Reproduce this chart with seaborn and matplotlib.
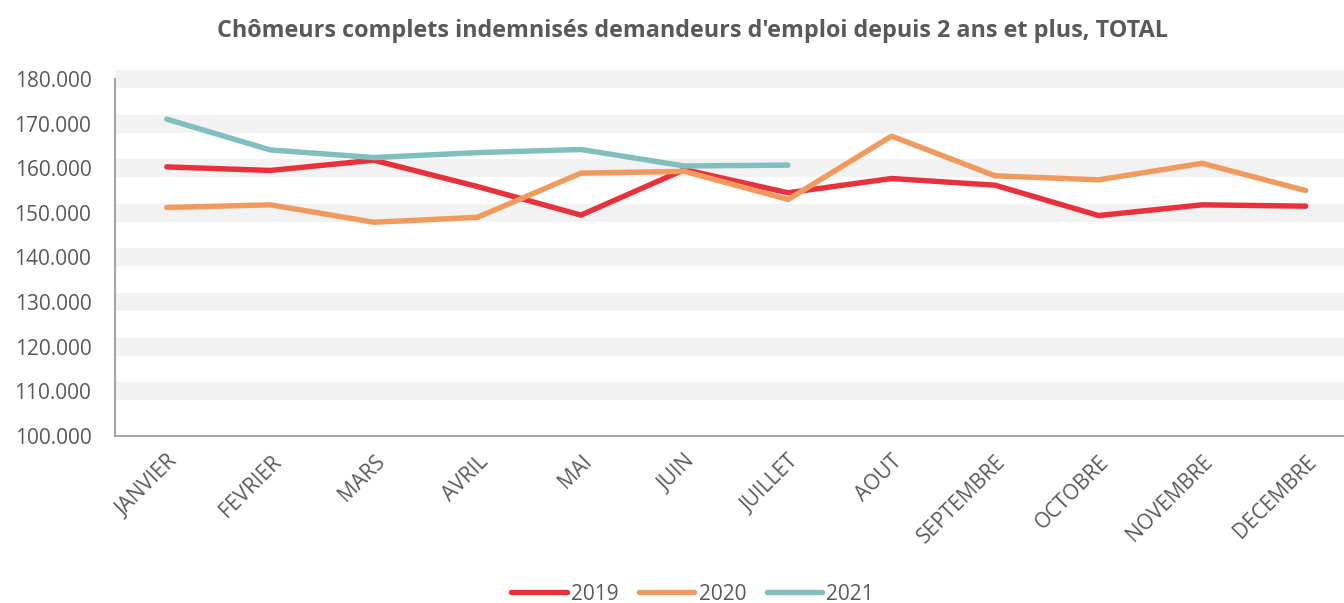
import pandas as pd
import seaborn as sns
import matplotlib.pyplot as plt
from matplotlib.ticker import FuncFormatter

# Monthly values
months = ['JANVIER', 'FEVRIER', 'MARS', 'AVRIL', 'MAI', 'JUIN',
          'JUILLET', 'AOUT', 'SEPTEMBRE', 'OCTOBRE', 'NOVEMBRE', 'DECEMBRE']
values_2019 = [160300, 159500, 161800, 155900, 149500, 159700,
               154500, 157700, 156200, 149400, 151800, 151500]
values_2020 = [151200, 151800, 147900, 149000, 158900, 159300,
               153000, 167200, 158300, 157400, 161100, 155000]
values_2021 = [171000, 164100, 162400, 163500, 164200, 160500, 160700]
years = ['2019', '2020', '2021']
colors = ['#E8313A', '#F09A5E', '#7FBFBD']

rows = []
for year, vals in zip(years, [values_2019, values_2020, values_2021]):
    for m, v in zip(months, vals):
        rows.append({'month': m, 'value': v, 'year': year})
df = pd.DataFrame(rows)

sns.set_style('white')
plt.rcParams['font.family'] = ['Open Sans', 'DejaVu Sans']
text_color = '#595959'

fig = plt.figure(figsize=(13.44, 6.03), dpi=100)
ax = fig.add_axes([0.0856, 0.277, 0.9144, 0.592])

sns.lineplot(data=df, x='month', y='value', hue='year', palette=colors,
             linewidth=3.9, sort=False, ax=ax, legend=True)
for line in ax.get_lines():
    line.set_solid_capstyle('round')

ax.set_ylim(100000, 180000)
ax.set_xlim(-0.5, 11.37)
ax.set_yticks(range(100000, 180001, 10000))
ax.yaxis.set_major_formatter(FuncFormatter(lambda v, _: f'{v:,.0f}'.replace(',', '.')))

# wide pale bands as grid
ax.yaxis.grid(True, color='#F2F2F2', linewidth=13)
for i, gl in enumerate(ax.get_ygridlines()):
    gl.set_clip_on(False)
    gl.set_solid_capstyle('butt')
    if i == 0:
        gl.set_visible(False)
ax.set_axisbelow(True)

for s in ['top', 'right']:
    ax.spines[s].set_visible(False)
for s in ['left', 'bottom']:
    ax.spines[s].set_color('#A6A6A6')
    ax.spines[s].set_linewidth(1.5)

ax.tick_params(axis='both', length=0, colors=text_color, labelsize=15)
ax.tick_params(axis='y', pad=17)
plt.setp(ax.get_xticklabels(), rotation=45, ha='right', rotation_mode='anchor')
ax.tick_params(axis='x', pad=11)
ax.set_xlabel('')
ax.set_ylabel('')

fig.suptitle("Chômeurs complets indemnisés demandeurs d'emploi depuis 2 ans et plus, TOTAL",
             x=0.515, y=0.968, fontsize=16.8, fontweight='bold', color=text_color)

handles, labels = ax.get_legend_handles_labels()
ax.legend(handles, labels, loc='center', bbox_to_anchor=(0.47, -0.443),
          ncol=3, frameon=False, fontsize=15, labelcolor=text_color,
          handlelength=2.65, handletextpad=0.2, columnspacing=1.0)

fig.savefig('out.png', dpi=100)
